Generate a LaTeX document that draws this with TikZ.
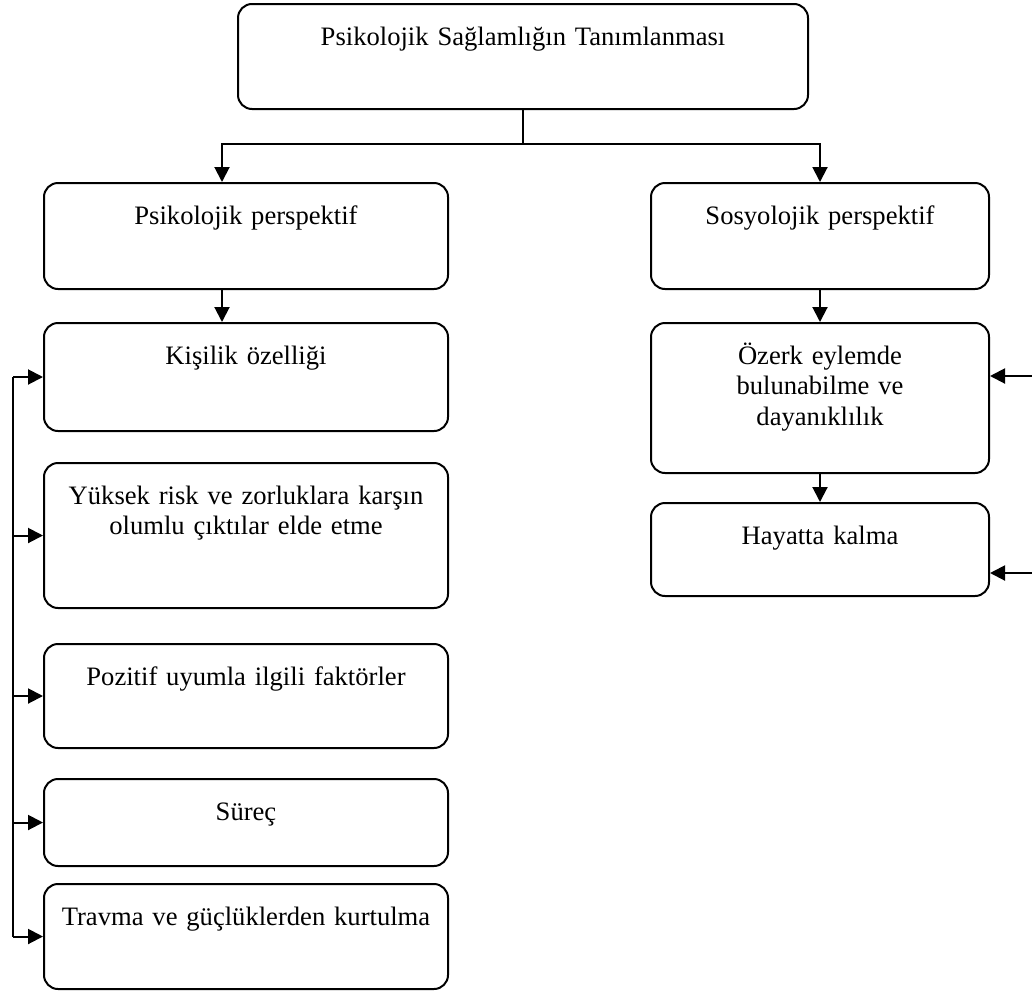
\documentclass[tikz,border=0pt]{standalone}
\usepackage{fontspec}
\setmainfont{Liberation Serif}
\usetikzlibrary{arrows.meta}

\begin{document}
\begin{tikzpicture}[x=0.5pt,y=-0.5pt,
        card/.style={draw,line width=1pt,rounded corners=7pt,anchor=north west,
            align=center,inner xsep=0pt,inner ysep=0pt,text height=20.5pt,
            font=\fontsize{13.3}{15.3}\selectfont},
        arr/.style={line width=1pt,-{Triangle[length=7.5pt,width=7.5pt]}}]
        \useasboundingbox (0,0) rectangle (1032,991);
        \node[card,text width=285pt,text depth=32pt] (top) at (237,3) {Psikolojik Sağlamlığın Tanımlanması};
        \node[card,text width=202pt,text depth=32.5pt] (psi) at (43,182) {Psikolojik perspektif};
        \node[card,text width=169pt,text depth=32.5pt] (sos) at (650,182) {Sosyolojik perspektif};
        \node[card,text width=202pt,text depth=33.5pt] (kis) at (43,322) {Kişilik özelliği};
        \node[card,text width=202pt,text depth=52pt] (yuk) at (43,462) {Yüksek risk ve zorluklara karşın\\olumlu çıktılar elde etme};
        \node[card,text width=202pt,text depth=31.5pt] (poz) at (43,643) {Pozitif uyumla ilgili faktörler};
        \node[card,text width=202pt,text depth=23pt] (sur) at (43,778) {Süreç};
        \node[card,text width=202pt,text depth=32pt] (tra) at (43,883) {Travma ve güçlüklerden kurtulma};
        \node[card,text width=169pt,text depth=54.5pt] (oz) at (650,322) {Özerk eylemde\\bulunabilme ve\\dayanıklılık};
        \node[card,text width=169pt,text depth=26pt] (hay) at (650,502) {Hayatta kalma};

        \coordinate (lcol) at (222,0);
        \coordinate (bus) at (13,0);
        \coordinate (ein) at (1032,376);
        \coordinate (hin) at (1032,573);

        \draw[line width=1pt] (top.south) -- ++(0,34) coordinate (split);
        \draw[arr] (split) -| (lcol |- psi.north);
        \draw[arr] (split) -| (sos.north);
        \draw[arr] (lcol |- psi.south) -- (lcol |- kis.north);
        \draw[arr] (sos.south) -- (oz.north);
        \draw[arr] (oz.south) -- (hay.north);
        \draw[line width=1pt] (bus |- kis.west) -- (bus |- tra.west);
        \foreach \b in {kis,yuk,poz,sur,tra}
            \draw[arr] (bus |- \b.west) -- (\b.west);
        \draw[arr] (ein) -- (ein -| oz.east);
        \draw[arr] (hin) -- (hin -| hay.east);
    \end{tikzpicture}
\end{document}
